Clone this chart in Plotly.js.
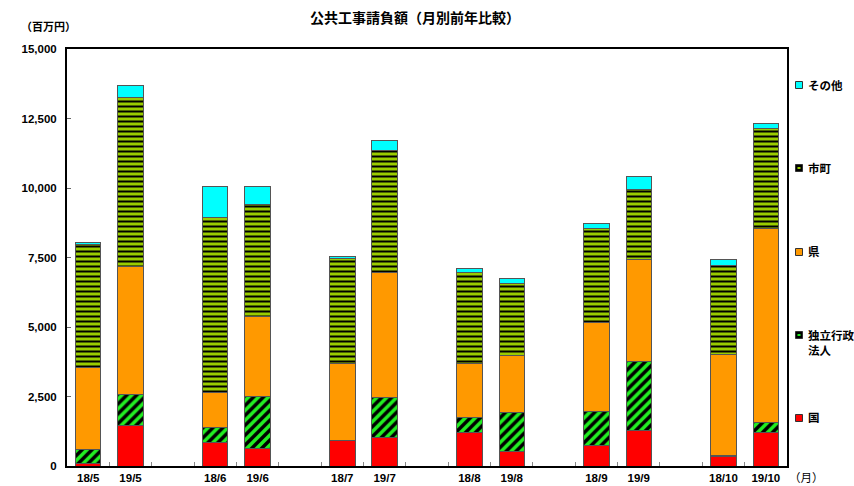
<!DOCTYPE html>
<html>
<head>
<meta charset="utf-8">
<script src="https://cdn.plot.ly/plotly-3.0.1.min.js"></script>
<style>html,body{margin:0;padding:0;background:#fff;}#chart{width:854px;height:486px;}</style>
</head>
<body>
<div id="chart"></div>
<script>
const categories = ['18/5','19/5',' ','18/6','19/6','  ','18/7','19/7','   ','18/8','19/8','    ','18/9','19/9','     ','18/10','19/10'];
const kuni      = [100, 1440, null, 840, 640, null, 910, 1030, null, 1200, 530, null, 740, 1270, null, 340, 1200];
const dokuritsu = [500, 1140, null, 540, 1850, null, 0, 1420, null, 530, 1390, null, 1210, 2480, null, 40, 350];
const ken       = [2960, 4610, null, 1260, 2880, null, 2780, 4520, null, 1960, 2070, null, 3200, 3670, null, 3620, 6980];
const shicho    = [4400, 6080, null, 6310, 4020, null, 3770, 4370, null, 3280, 2560, null, 3410, 2540, null, 3200, 3620];
const sonota    = [90, 430, null, 1120, 680, null, 60, 380, null, 130, 190, null, 160, 450, null, 230, 180];
const seriesNames = ['国', '独立行政<br>法人', '県', '市町', 'その他'];
const seriesColors = ['#ff0000', '#22ee22', '#ff9900', '#99cc00', '#00ffff'];

const FONT = 'Liberation Sans, Arial, Noto Sans CJK JP, sans-serif';
const line = {color: '#555', width: 1};
const w = 0.6;

const traces = [
  {name: seriesNames[0], y: kuni, marker: {color: seriesColors[0], line: line}},
  {name: seriesNames[1], y: dokuritsu, marker: {color: seriesColors[1], line: line,
     pattern: {shape: '/', fgcolor: '#000000', bgcolor: seriesColors[1], size: 7, solidity: 0.5}}},
  {name: seriesNames[2], y: ken, marker: {color: seriesColors[2], line: line}},
  {name: seriesNames[3], y: shicho, marker: {color: seriesColors[3], line: line,
     pattern: {shape: '-', fgcolor: '#000000', bgcolor: seriesColors[3], size: 5, solidity: 0.4}}},
  {name: seriesNames[4], y: sonota, marker: {color: seriesColors[4], line: line}}
].map(t => Object.assign({type: 'bar', x: categories, width: w, hoverinfo: 'skip'}, t));

// Manual legend on the right (pixel layout of the reference: plot area 67..787 x 49..466)
const PL = 67, PW = 720, PB = 466, PH = 417;
const px2x = px => (px - PL) / PW;
const py2y = py => (PB - py) / PH;
const legendRows = [418, 335, 252, 168, 85]; // 国, 独立行政法人, 県, 市町, その他 (first-line centre)
const shapes = [], annotations = [];
seriesNames.forEach((name, i) => {
  const cy = legendRows[i];
  const dark = (i === 1 || i === 3);
  shapes.push({type: 'rect', xref: 'paper', yref: 'paper',
    x0: px2x(795.5), x1: px2x(802.5), y0: py2y(cy + 3.5), y1: py2y(cy - 3.5),
    fillcolor: dark ? '#000000' : seriesColors[i], line: {color: '#333', width: 1}});
  if (dark) {
    shapes.push({type: 'rect', xref: 'paper', yref: 'paper',
      x0: px2x(797.5), x1: px2x(800.5), y0: py2y(cy + 1), y1: py2y(cy - 1),
      fillcolor: seriesColors[i], line: {width: 0}});
  }
  annotations.push({text: name, xref: 'paper', yref: 'paper', x: px2x(806), y: py2y(cy - 8),
    xanchor: 'left', yanchor: 'top', align: 'left', showarrow: false,
    font: {family: FONT, size: 11.5, weight: 'bold', color: '#000'}});
});
annotations.push({text: '（百万円）', xref: 'paper', yref: 'paper', x: px2x(19), y: py2y(27),
  xanchor: 'left', yanchor: 'middle', showarrow: false, font: {family: FONT, size: 11, weight: 'bold'}});
annotations.push({text: '（月）', xref: 'paper', yref: 'paper', x: px2x(787), y: py2y(478),
  xanchor: 'left', yanchor: 'middle', showarrow: false, font: {family: FONT, size: 11.5}});

const layout = {
  width: 854, height: 486,
  margin: {l: 67, r: 67, t: 49, b: 20, autoexpand: false},
  paper_bgcolor: '#fff', plot_bgcolor: '#fff',
  barmode: 'stack',
  showlegend: false,
  font: {family: FONT, size: 11, color: '#000'},
  title: {text: '公共工事請負額（月別前年比較）', x: 0.486, xanchor: 'center', y: 0.963, yanchor: 'middle',
          font: {family: FONT, size: 14, weight: 'bold', color: '#000'}},
  xaxis: {type: 'category', categoryorder: 'array', categoryarray: categories,
          range: [-0.5, 16.5], tickson: 'boundaries', ticks: 'inside', ticklen: 4, tickcolor: '#888',
          showline: true, mirror: true, linewidth: 2, linecolor: '#000', showgrid: false,
          tickfont: {family: FONT, size: 11.5, weight: 'bold'}},
  yaxis: {range: [0, 15000], dtick: 2500, tickformat: ',d', ticks: 'inside', ticklen: 4, tickcolor: '#666',
          showline: true, mirror: true, linewidth: 2, linecolor: '#000', showgrid: false, zeroline: false,
          ticklabelstandoff: 6,
          tickfont: {family: FONT, size: 11.5, weight: 'bold'}},
  shapes: shapes,
  annotations: annotations
};

Plotly.newPlot('chart', traces, layout, {displayModeBar: false, staticPlot: true});
</script>
</body>
</html>
